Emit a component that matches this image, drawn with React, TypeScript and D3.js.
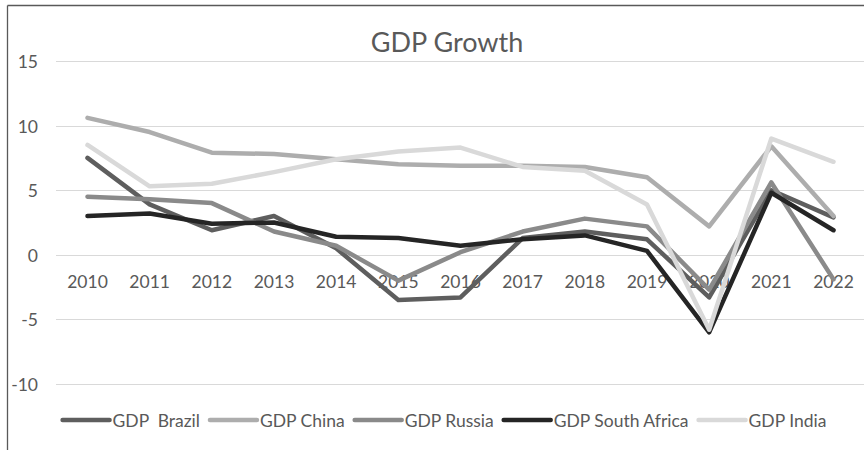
import React, { useEffect, useRef } from "react";
import * as d3 from "d3";

const years = ["2010", "2011", "2012", "2013", "2014", "2015", "2016", "2017", "2018", "2019", "2020", "2021", "2022"];
const brazil = [7.5, 3.9, 1.9, 3.0, 0.5, -3.5, -3.3, 1.3, 1.8, 1.2, -3.3, 5.0, 2.9];
const china = [10.6, 9.5, 7.9, 7.8, 7.4, 7.0, 6.9, 6.9, 6.8, 6.0, 2.2, 8.4, 3.0];
const russia = [4.5, 4.3, 4.0, 1.8, 0.7, -2.0, 0.2, 1.8, 2.8, 2.2, -2.7, 5.6, -1.9];
const southAfrica = [3.0, 3.2, 2.4, 2.5, 1.4, 1.3, 0.7, 1.2, 1.5, 0.3, -6.0, 4.8, 1.9];
const india = [8.5, 5.3, 5.5, 6.4, 7.4, 8.0, 8.3, 6.8, 6.5, 3.9, -5.8, 9.0, 7.2];
const seriesNames = ["GDP  Brazil", "GDP China", "GDP Russia", "GDP South Africa", "GDP India"];
const seriesColors = ["#5e5e5e", "#adadad", "#8a8a8a", "#252525", "#d9d9d9"];
const yTicks = [-10, -5, 0, 5, 10, 15];
const title = "GDP Growth";

const W = 864;
const H = 450;
const FONT = "Lato, 'Open Sans', sans-serif";

export default function App() {
  const ref = useRef<SVGSVGElement | null>(null);

  useEffect(() => {
    const svg = d3.select(ref.current);
    svg.selectAll("*").remove();
    const series = [brazil, china, russia, southAfrica, india];

    const x = d3.scalePoint<string>().domain(years).range([87.5, 833.5]);
    const y = d3.scaleLinear().domain([-10, 15]).range([384, 61]);

    svg.append("rect").attr("width", W).attr("height", H).attr("fill", "#fff");

    // frame
    svg.append("line").attr("x1", 7.5).attr("x2", 7.5).attr("y1", 5.5).attr("y2", H).attr("stroke", "#595959").attr("stroke-width", 1.3);
    svg.append("line").attr("x1", 7.5).attr("x2", W).attr("y1", 5.5).attr("y2", 5.5).attr("stroke", "#595959").attr("stroke-width", 1.3);

    // gridlines
    svg.append("g").selectAll("line").data(yTicks).join("line")
      .attr("x1", 56).attr("x2", W)
      .attr("y1", (d) => Math.round(y(d)) + 0.5).attr("y2", (d) => Math.round(y(d)) + 0.5)
      .attr("stroke", "#d9d9d9").attr("stroke-width", 1);

    // y labels
    svg.append("g").selectAll("text").data(yTicks).join("text")
      .attr("x", 38).attr("y", (d) => y(d) + 7)
      .attr("text-anchor", "end")
      .attr("font-family", FONT).attr("font-size", 17.5).attr("fill", "#595959")
      .text((d) => String(d));

    // x labels
    svg.append("g").selectAll("text").data(years).join("text")
      .attr("x", (d) => x(d) as number).attr("y", 288)
      .attr("text-anchor", "middle")
      .attr("font-family", FONT).attr("font-size", 17.5).attr("fill", "#595959")
      .text((d) => d);

    // title
    svg.append("text").attr("x", 447).attr("y", 52).attr("text-anchor", "middle")
      .attr("font-family", FONT).attr("font-size", 27).attr("fill", "#595959").text(title);

    // lines
    const line = d3.line<number>().x((_, i) => x(years[i]) as number).y((d) => y(d));
    series.forEach((s, i) => {
      svg.append("path").attr("d", line(s) as string).attr("fill", "none")
        .attr("stroke", seriesColors[i]).attr("stroke-width", 4.5)
        .attr("stroke-linejoin", "round").attr("stroke-linecap", "round");
    });

    // legend
    const lg = svg.append("g");
    const items = seriesNames.map((name, i) => {
      const g = lg.append("g");
      g.append("line").attr("x1", 0).attr("x2", 47).attr("y1", 0).attr("y2", 0)
        .attr("stroke", seriesColors[i]).attr("stroke-width", 4.5).attr("stroke-linecap", "round");
      const t = g.append("text").attr("x", 50).attr("y", 6.5)
        .attr("font-family", FONT).attr("font-size", 17.5).attr("fill", "#595959")
        .style("white-space", "pre").text(name);
      const w = (t.node() as SVGTextElement).getComputedTextLength();
      return { g, w: 50 + w };
    });
    const gap = 10;
    const total = items.reduce((a, b) => a + b.w, 0) + gap * (items.length - 1);
    let cx = 444.5 - total / 2;
    items.forEach((it) => {
      it.g.attr("transform", `translate(${cx},420)`);
      cx += it.w + gap;
    });
  }, []);

  return (
    <svg ref={ref} width={W} height={H} style={{ position: "absolute", left: 0, top: 0, display: "block" }} />
  );
}
